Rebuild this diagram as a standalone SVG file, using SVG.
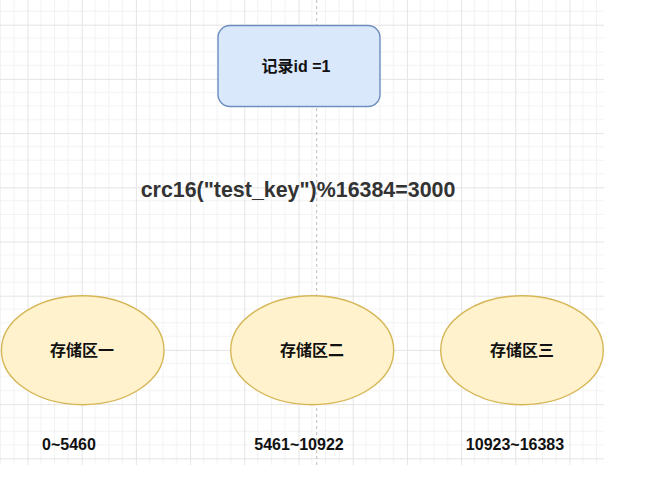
<svg xmlns="http://www.w3.org/2000/svg" width="645" height="481" viewBox="0 0 645 481">
  <style>
    .lbl { font-family: "Liberation Sans", Arial, "Noto Sans CJK SC", sans-serif; font-weight: bold; font-size: 16px; fill: #111111; text-anchor: middle; }
    .title { font-family: "Liberation Sans", Arial, sans-serif; font-weight: bold; font-size: 21.4px; fill: #333333; text-anchor: middle; }
    .store { fill: #fff2cc; stroke: #d6b656; stroke-width: 1.4; }
    .rec { fill: #dae8fc; stroke: #6c8ebf; stroke-width: 1.4; }
  </style>
  <defs>
    <pattern id="grid" patternUnits="userSpaceOnUse" x="-26.7" y="-29.5" width="54.2" height="54.2">
      <g stroke="#f2f2f2" stroke-width="1">
        <line x1="13.55" y1="0" x2="13.55" y2="54.2"/>
        <line x1="27.1" y1="0" x2="27.1" y2="54.2"/>
        <line x1="40.65" y1="0" x2="40.65" y2="54.2"/>
        <line x1="0" y1="13.55" x2="54.2" y2="13.55"/>
        <line x1="0" y1="27.1" x2="54.2" y2="27.1"/>
        <line x1="0" y1="40.65" x2="54.2" y2="40.65"/>
      </g>
      <g stroke="#e4e4e4" stroke-width="1">
        <line x1="0.5" y1="0" x2="0.5" y2="54.2"/>
        <line x1="0" y1="0.5" x2="54.2" y2="0.5"/>
      </g>
    </pattern>
  </defs>
  <rect x="0" y="0" width="645" height="481" fill="#ffffff"/>
  <rect x="0" y="0" width="604" height="465" fill="url(#grid)"/>

  <g id="connectors">
    <line x1="316.7" y1="0" x2="316.7" y2="465" stroke="#bdbdbd" stroke-width="1" stroke-dasharray="3 3"/>
  </g>

  <g id="record">
    <rect class="rec" x="218" y="25.5" width="162" height="81" rx="12" ry="12"/>
    <text class="lbl" x="296" y="72">记录id =1</text>
  </g>

  <g id="hash">
    <text class="title" x="298" y="197">crc16("test_key")%16384=3000</text>
  </g>

  <g id="store1">
    <ellipse class="store" cx="82.7" cy="350.2" rx="81.3" ry="54.5"/>
    <text class="lbl" x="82" y="356">存储区一</text>
  </g>
  <g id="store2">
    <ellipse class="store" cx="312.2" cy="350.2" rx="81.5" ry="54.5"/>
    <text class="lbl" x="312" y="356">存储区二</text>
  </g>
  <g id="store3">
    <ellipse class="store" cx="522" cy="350.2" rx="81.3" ry="54.5"/>
    <text class="lbl" x="522" y="356">存储区三</text>
  </g>

  <g id="range1">
    <text class="lbl" x="69" y="450">0~5460</text>
  </g>
  <g id="range2">
    <text class="lbl" x="299" y="450">5461~10922</text>
  </g>
  <g id="range3">
    <text class="lbl" x="515" y="450">10923~16383</text>
  </g>
</svg>
